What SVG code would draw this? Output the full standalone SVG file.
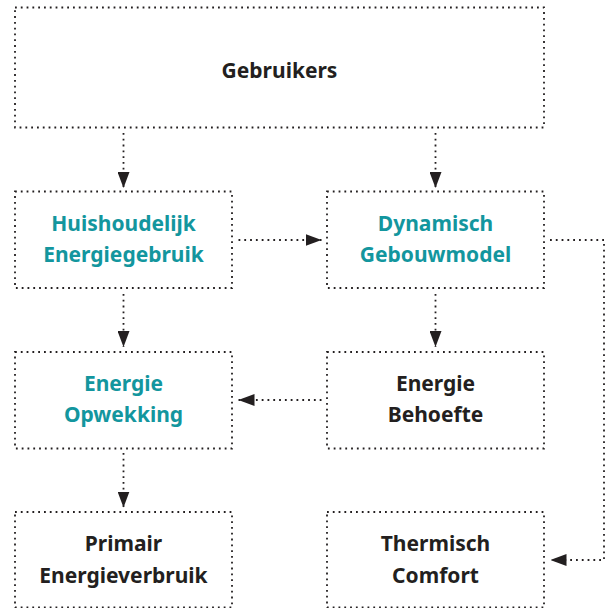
<svg xmlns="http://www.w3.org/2000/svg" width="614" height="608" viewBox="0 0 614 608">
  <style>
    .box { fill: none; stroke: #231f20; stroke-width: 1.8; stroke-dasharray: 1.8 4; }
    .conn { fill: none; stroke: #231f20; stroke-width: 1.8; stroke-dasharray: 1.8 4; }
    .t { font-family: "Noto Sans", "Open Sans", sans-serif; font-weight: bold; font-size: 21px; text-anchor: middle; }
    .dark { fill: #231f20; }
    .teal { fill: #13969e; }
  </style>
  <defs>
    <marker id="arrow" markerUnits="userSpaceOnUse" markerWidth="16" markerHeight="12" refX="16" refY="6" orient="auto">
      <path d="M0,0 L16,6 L0,12 Z" fill="#231f20"/>
    </marker>
  </defs>
  <rect width="614" height="608" fill="#ffffff"/>

  <g id="connectors">
    <path class="conn" d="M123.5,133 V188" marker-end="url(#arrow)"/>
    <path class="conn" d="M435.5,133 V188" marker-end="url(#arrow)"/>
    <path class="conn" d="M238.5,240 H321.5" marker-end="url(#arrow)"/>
    <path class="conn" d="M435.5,294 V347" marker-end="url(#arrow)"/>
    <path class="conn" d="M550,240 H604 V560 H550.5" marker-end="url(#arrow)"/>
    <path class="conn" d="M123.5,294 V347" marker-end="url(#arrow)"/>
    <path class="conn" d="M321.5,400 H238.5" marker-end="url(#arrow)"/>
    <path class="conn" d="M123.5,453 V507.5" marker-end="url(#arrow)"/>
  </g>

  <g id="gebruikers">
    <rect class="box" x="15" y="7.5" width="529" height="120"/>
    <text class="t dark" x="279.5" y="78">Gebruikers</text>
  </g>
  <g id="huishoudelijk">
    <rect class="box" x="15" y="191.5" width="217" height="96.5"/>
    <text class="t teal" x="123.5" y="231">Huishoudelijk</text>
    <text class="t teal" x="123.5" y="262">Energiegebruik</text>
  </g>
  <g id="dynamisch">
    <rect class="box" x="327" y="191.5" width="217" height="96.5"/>
    <text class="t teal" x="435.5" y="231">Dynamisch</text>
    <text class="t teal" x="435.5" y="262">Gebouwmodel</text>
  </g>
  <g id="opwekking">
    <rect class="box" x="15" y="352" width="217" height="96.5"/>
    <text class="t teal" x="123.5" y="391">Energie</text>
    <text class="t teal" x="123.5" y="422">Opwekking</text>
  </g>
  <g id="behoefte">
    <rect class="box" x="327" y="352" width="217" height="96.5"/>
    <text class="t dark" x="435.5" y="391">Energie</text>
    <text class="t dark" x="435.5" y="422">Behoefte</text>
  </g>
  <g id="primair">
    <rect class="box" x="15" y="512" width="217" height="95.5"/>
    <text class="t dark" x="123.5" y="551">Primair</text>
    <text class="t dark" x="123.5" y="583">Energieverbruik</text>
  </g>
  <g id="comfort">
    <rect class="box" x="327" y="512" width="217" height="95.5"/>
    <text class="t dark" x="435.5" y="551">Thermisch</text>
    <text class="t dark" x="435.5" y="583">Comfort</text>
  </g>
</svg>
